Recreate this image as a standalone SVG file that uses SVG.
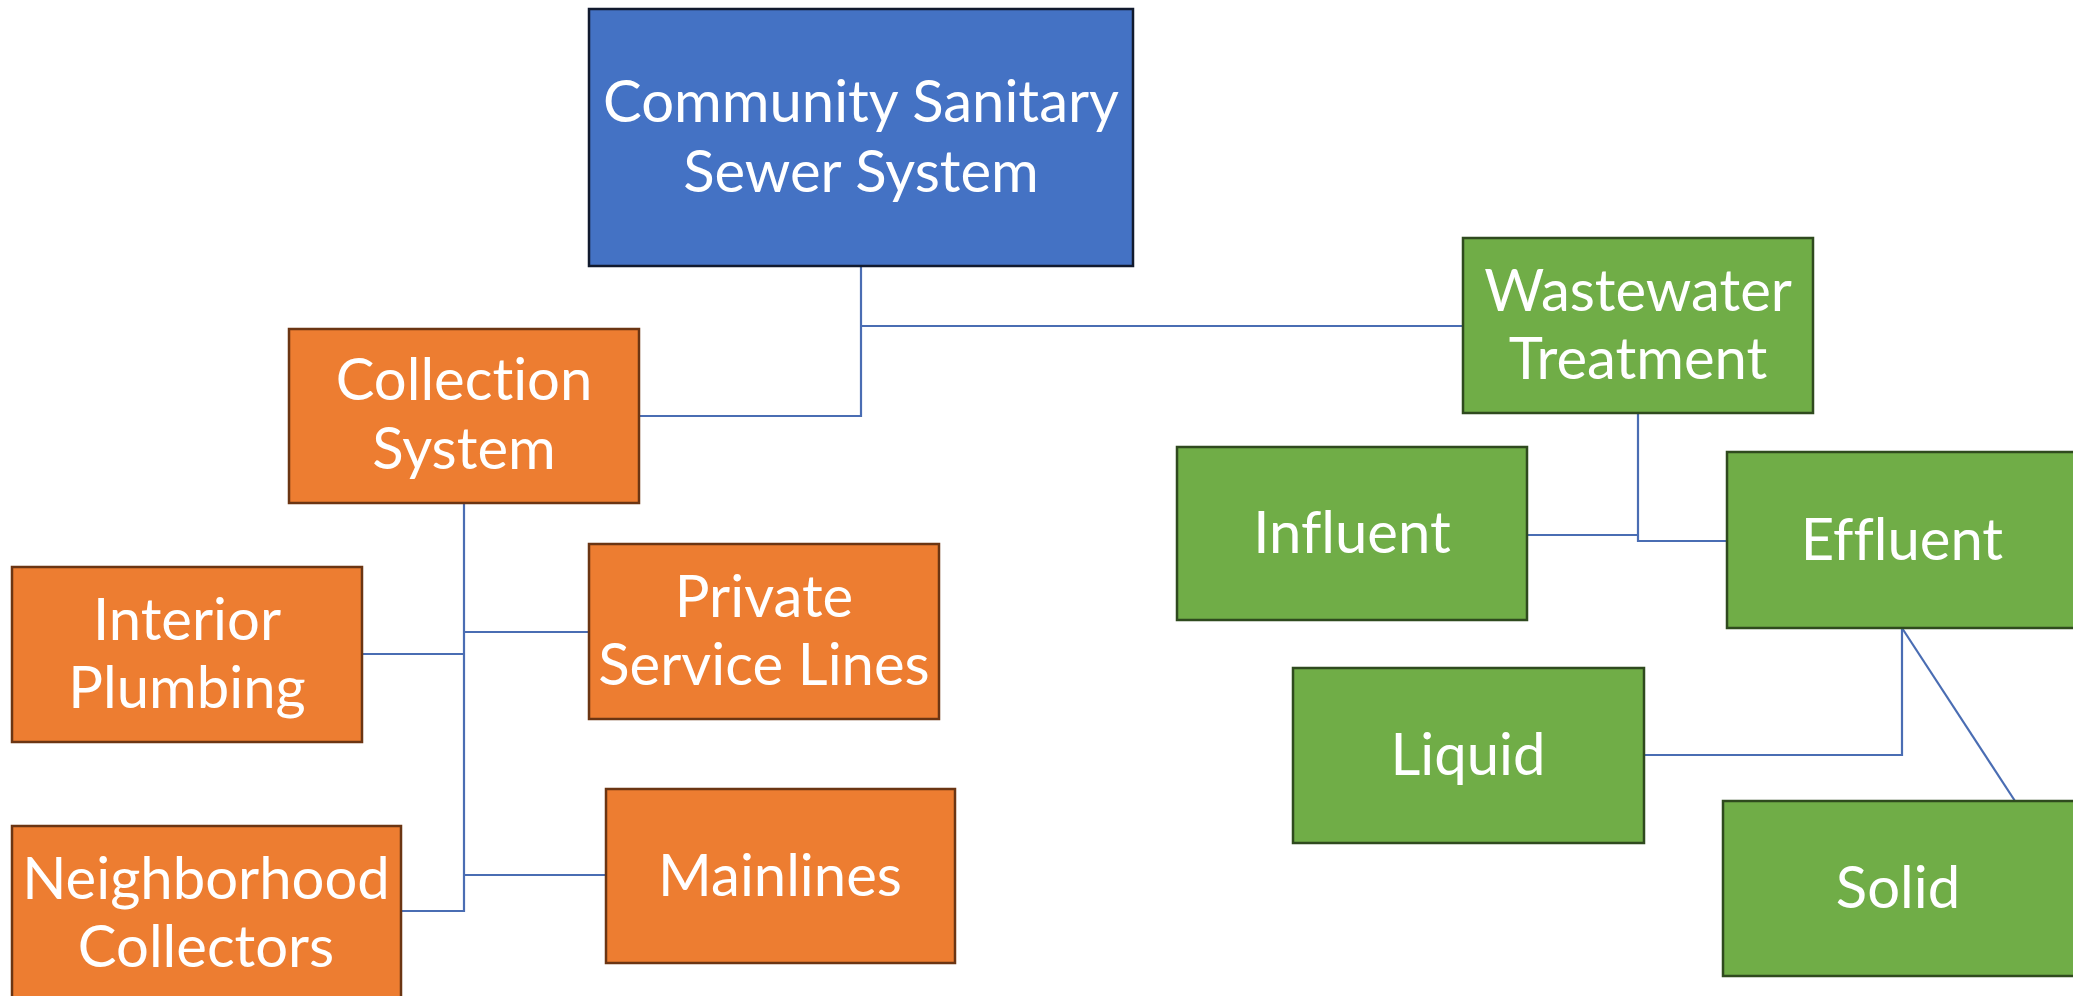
<svg xmlns="http://www.w3.org/2000/svg" width="2073" height="996" viewBox="0 0 2073 996">
<style>
.blue{fill:#4472C4;stroke:#111a2e;stroke-width:2.5}
.orange{fill:#ED7D31;stroke:#6b3513;stroke-width:2.5}
.green{fill:#70AD47;stroke:#2f4a1e;stroke-width:2.5}
text{font-family:Lato,"Open Sans","Liberation Sans",sans-serif;font-size:58px;fill:#ffffff;text-anchor:middle;font-variant-ligatures:none;font-feature-settings:"liga" 0,"clig" 0}
.conn path{fill:none;stroke:#4a6db3;stroke-width:2.2}
</style>
<rect width="2073" height="996" fill="#ffffff"/>
<g class="conn" id="connectors">
<path d="M861 266 V416 H639"/>
<path d="M861 326 H1463"/>
<path d="M464 503 V911 H401"/>
<path d="M362 654 H464"/>
<path d="M464 632 H589"/>
<path d="M464 875 H606"/>
<path d="M1638 413 V541 H1727"/>
<path d="M1527 535 H1638"/>
<path d="M1902 628 V755 H1644"/>
<path d="M1902 628 L2015 801"/>
</g>
<g id="main"><rect class="blue" x="589" y="9" width="544" height="257"/><text x="861" y="122">Community Sanitary</text><text x="861" y="192">Sewer System</text></g>
<g id="wastewater"><rect class="green" x="1463" y="238" width="350" height="175"/><text x="1638" y="311">Wastewater</text><text x="1638" y="379">Treatment</text></g>
<g id="collection"><rect class="orange" x="289" y="329" width="350" height="174"/><text x="464" y="400">Collection</text><text x="464" y="469">System</text></g>
<g id="interior"><rect class="orange" x="12" y="567" width="350" height="175"/><text x="187" y="640">Interior</text><text x="187" y="708">Plumbing</text></g>
<g id="private"><rect class="orange" x="589" y="544" width="350" height="175"/><text x="764" y="617">Private</text><text x="764" y="685">Service Lines</text></g>
<g id="neighborhood"><rect class="orange" x="12" y="826" width="389" height="180"/><text x="206" y="899">Neighborhood</text><text x="206" y="967">Collectors</text></g>
<g id="mainlines"><rect class="orange" x="606" y="789" width="349" height="174"/><text x="780" y="896">Mainlines</text></g>
<g id="influent"><rect class="green" x="1177" y="447" width="350" height="173"/><text x="1352" y="553">Influent</text></g>
<g id="effluent"><rect class="green" x="1727" y="452" width="350" height="176"/><text x="1902" y="560">Effluent</text></g>
<g id="liquid"><rect class="green" x="1293" y="668" width="351" height="175"/><text x="1468" y="775">Liquid</text></g>
<g id="solid"><rect class="green" x="1723" y="801" width="352" height="175"/><text x="1898" y="908">Solid</text></g>
</svg>
